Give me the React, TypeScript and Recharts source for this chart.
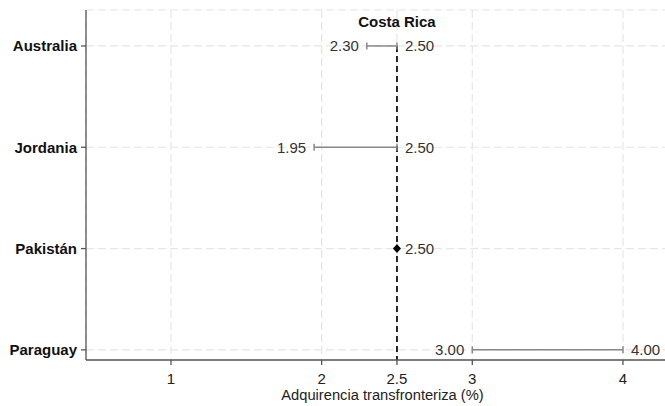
import React from 'react';
import { ScatterChart, Scatter, XAxis, YAxis, CartesianGrid, ReferenceLine, Label } from 'recharts';

const countries = ['Paraguay', 'Pakistán', 'Jordania', 'Australia'];
const lowValues = [3.0, 2.5, 1.95, 2.3];
const highValues = [4.0, 2.5, 2.5, 2.5];
const xTicks = [1, 2, 2.5, 3, 4];
const yTicks = [0, 1, 2, 3];
const benchmarkValue = 2.5;
const benchmarkName = 'Costa Rica';
const xTitle = 'Adquirencia transfronteriza (%)';

const FONT = '"Liberation Sans", Arial, sans-serif';

type Pt = { x: number; y: number; side: 'left' | 'right'; kind: 'cap' | 'point' };

const seriesData: Pt[][] = countries.map((_, i) => {
  const lo = lowValues[i];
  const hi = highValues[i];
  if (lo === hi) return [{ x: hi, y: i, side: 'right', kind: 'point' }];
  return [
    { x: lo, y: i, side: 'left', kind: 'cap' },
    { x: hi, y: i, side: 'right', kind: 'cap' },
  ];
});

const EndShape = (props: any) => {
  const { cx, cy, payload } = props;
  if (cx == null || cy == null) return null;
  const isLeft = payload.side === 'left';
  return (
    <g>
      {payload.kind === 'point' ? (
        <path d={`M${cx},${cy - 4.5}L${cx + 4},${cy}L${cx},${cy + 4.5}L${cx - 4},${cy}Z`} fill="#000" />
      ) : (
        <line x1={cx} x2={cx} y1={cy - 3.5} y2={cy + 3.5} stroke="#888" strokeWidth={1.5} />
      )}
      <text
        x={isLeft ? cx - 8 : cx + 8}
        y={cy}
        dy="0.36em"
        textAnchor={isLeft ? 'end' : 'start'}
        fontSize={15}
        fontFamily={FONT}
        fill="#333"
      >
        {payload.x.toFixed(2)}
      </text>
    </g>
  );
};

export default function App() {
  return (
    <div style={{ position: 'absolute', left: 0, top: 0, width: 665, height: 406, overflow: 'hidden', background: '#fff' }}>
      <ScatterChart width={690} height={406} margin={{ top: 10, right: 11, bottom: 0, left: 0 }}>
        <CartesianGrid strokeDasharray="8 4" stroke="#e6e6e6" strokeWidth={1.2} />
        <XAxis
          type="number"
          dataKey="x"
          domain={[0.436, 4.372]}
          ticks={xTicks}
          allowDataOverflow
          height={46}
          tickSize={5}
          tickMargin={8}
          stroke="#555"
          strokeWidth={1.3}
          tick={{ fontSize: 15, fill: '#222', fontFamily: FONT }}
        >
          <Label value={xTitle} position="insideBottom" offset={6} style={{ fontSize: 14.7, fill: '#222', fontFamily: FONT }} />
        </XAxis>
        <YAxis
          type="number"
          dataKey="y"
          domain={[-0.1, 3.355]}
          ticks={yTicks}
          allowDataOverflow
          width={86}
          tickSize={5}
          tickMargin={4}
          stroke="#555"
          strokeWidth={1.3}
          tickFormatter={(v: number) => countries[v] ?? ''}
          tick={{ fontSize: 15, fill: '#111', fontWeight: 'bold', fontFamily: FONT }}
        />
        {seriesData.map((d, i) => (
          <Scatter
            key={countries[i]}
            data={d}
            isAnimationActive={false}
            line={d.length > 1 ? { stroke: '#888', strokeWidth: 1.5 } : false}
            shape={EndShape}
          />
        ))}
        <ReferenceLine
          segment={[
            { x: benchmarkValue, y: yTicks[yTicks.length - 1] },
            { x: benchmarkValue, y: -0.1 },
          ]}
          stroke="#111"
          strokeWidth={1.8}
          strokeDasharray="6 4"
          ifOverflow="visible"
        >
          <Label value={benchmarkName} position="top" offset={19} style={{ fontSize: 15, fontWeight: 'bold', fill: '#111', fontFamily: FONT }} />
        </ReferenceLine>
      </ScatterChart>
    </div>
  );
}
